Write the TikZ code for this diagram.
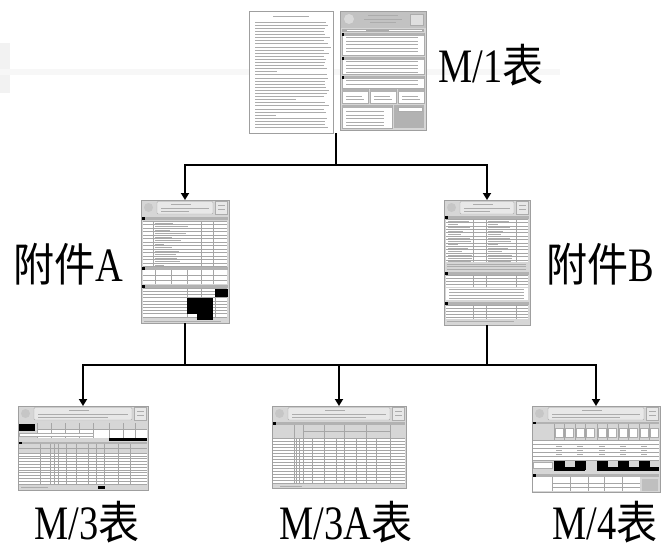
\documentclass[tikz,border=0pt]{standalone}
\usepackage{fontspec}
\setmainfont{Liberation Serif}[FakeStretch=0.8]
\newfontfamily\cjk{Noto Sans CJK TC}[FakeStretch=0.9,Scale=0.95]
\usetikzlibrary{arrows.meta}
% header of a small form (logo, title box, number box), #1 = page width
\newcommand\formhead[1]{%
  \fill[gray!45] (7.5,7.5) circle (4.5);
  \draw[cell, fill=gray!18, rounded corners=1pt] (16,1.5) rectangle ({#1-16},14);
  \draw[txt] ({#1/2-14},4) -- ({#1/2+6},4);
  \draw[txt] (20,8) -- ({#1-20},8);
  \draw[txt] (20,11.5) -- ({#1-40},11.5);
  \draw[cell, fill=gray!18] ({#1-14},1.5) rectangle ({#1-1.5},14);
  \draw[txt] ({#1-11},5) -- ({#1-4},5);
  \draw[txt] ({#1-11},9) -- ({#1-4},9);
}
\begin{document}
\begin{tikzpicture}[x=1pt, y=-1pt, every node/.style = {inner sep=0pt, outer sep=0pt}]
	\tikzstyle{page} = [draw=gray!75, fill=gray!32, line width=0.6pt]
	\tikzstyle{paper} = [page, fill=white]
	\tikzstyle{bar} = [fill=gray!60]
	\tikzstyle{cell} = [draw=gray!65, fill=white, line width=0.4pt]
	\tikzstyle{txt} = [draw=gray!65, line width=0.6pt]
	\tikzstyle{rule} = [draw=gray!70, line width=0.35pt]
	\tikzstyle{ink} = [fill=black]
	\tikzstyle{lab} = [font=\fontsize{48}{50}\selectfont, anchor=base]
	\tikzstyle{link} = [draw, line width=1.7pt]
	\tikzstyle{arr} = [link, -{Triangle[width=8pt, length=7pt]}]
	\useasboundingbox (0,0) rectangle (665,550);
	\pgfmathsetseed{11}
	% faint band
	\fill[black!3] (0,69) rectangle (560,75);
	\fill[black!5] (0,43) rectangle (10,69);
	\fill[black!5] (0,75) rectangle (10,93);

	% pages
	\node[paper, minimum width=84, minimum height=122] (m1a) at (291,72) {};
	\node[page, minimum width=86, minimum height=119] (m1b) at (383,70.5) {};
	\node[page, minimum width=88, minimum height=123] (fja) at (185,261.5) {};
	\node[page, minimum width=86, minimum height=125] (fjb) at (487,262.5) {};
	\node[page, minimum width=130, minimum height=84] (m3) at (83,448) {};
	\node[page, minimum width=134, minimum height=82] (m3a) at (339,447) {};
	\node[page, minimum width=128, minimum height=86] (m4) at (596,449) {};

	% labels
	\node[lab] (m1lab) at (491,82) {M/1{\cjk 表}};
	\node[lab] (fjalab) at (68,281) {{\cjk 附件}A};
	\node[lab] (fjblab) at (600,281) {{\cjk 附件}B};
	\node[lab] (m3lab) at (87,539) {M/3{\cjk 表}};
	\node[lab] (m3alab) at (346,539) {M/3A{\cjk 表}};
	\node[lab] (m4lab) at (605,539) {M/4{\cjk 表}};

	% connectors
	\coordinate (m1s) at (336,133);
	\coordinate (j1) at (336,165);
	\coordinate (bus) at (339,365);
	\draw[link] (m1s) -- (j1);
	\draw[arr] (j1) -| (fja.north);
	\draw[arr] (j1) -| (fjb.north);
	\draw[link] (fja.south) |- (bus);
	\draw[link] (fjb.south) |- (bus);
	\draw[arr] (bus) -| (m3.north);
	\draw[arr] (bus) -- (m3a.north);
	\draw[arr] (bus) -| (m4.north);

	% M/1, notes page
	\begin{scope}[shift={(m1a.north west)}]
		\draw[txt] (24,5) -- (60,5);
		\foreach \i in {0,...,34} {
			\pgfmathsetmacro\l{rnd>0.8 ? 20+30*rnd : 68+8*rnd}
			\draw[txt, line width=0.5pt] (6,11+3.1*\i) -- ++(\l,0);
		}
	\end{scope}
	% M/1, form page
	\begin{scope}[shift={(m1b.north west)}]
		\fill[gray!48] (0.5,0.5) rectangle (85.5,17);
		\fill[gray!30] (9,8) circle (5);
		\draw[txt] (28,4) -- (58,4); \draw[txt] (24,8) -- (62,8); \draw[txt] (30,11.5) -- (56,11.5);
		\draw[cell, fill=gray!25] (70,3) rectangle (83,14);
		\fill[gray!65] (2,18) rectangle (84,21);
		\fill[cell] (6,18.5) rectangle (26,20.5); \fill[cell] (48,18.5) rectangle (82,20.5);
		\foreach \a/\b/\n in {22/44/5, 46/63/4, 65/77/2} {
			\draw[cell] (2,\a) rectangle (84,\b);
			\fill[bar] (2,\a) rectangle (84,\a+3);
			\fill[black] (2,\a) rectangle (4,\a+3);
			\foreach \i in {1,...,\n} \draw[txt, line width=0.4pt] (6,\a+1+3.5*\i) -- (78,\a+1+3.5*\i);
		}
		\foreach \x in {2,30,58} {
			\draw[cell] (\x,78) rectangle (\x+26,92);
			\fill[bar] (\x,78) rectangle (\x+26,81);
			\draw[txt, line width=0.4pt] (\x+4,85) -- (\x+20,85); \draw[txt, line width=0.4pt] (\x+4,88) -- (\x+22,88);
		}
		\draw[cell] (2,94) rectangle (52,117);
		\fill[bar] (2,94) rectangle (52,97);
		\foreach \i in {1,...,5} \draw[txt, line width=0.4pt] (6,97+3.5*\i) -- (44,97+3.5*\i);
		\fill[gray!60] (54,94) rectangle (84,117);
		\fill[cell] (58,96) rectangle (82,100);
	\end{scope}

	% Annex A
	\begin{scope}[shift={(fja.north west)}]
		\formhead{88}
		\fill[bar] (1,17) rectangle (87,20); \fill[black] (1,17) rectangle (4,20);
		\fill[white] (2,21) rectangle (86,66);
		\foreach \i in {0,...,13} {
			\draw[rule] (2,21+3.5*\i) -- (86,21+3.5*\i);
			\pgfmathsetmacro\l{8+26*rnd}
			\draw[txt, line width=0.4pt] (14,22.7+3.5*\i) -- ++(\l,0);
		}
		\foreach \x in {12,60,72} \draw[rule] (\x,21) -- (\x,66);
		\fill[bar] (1,67) rectangle (87,70); \fill[black] (1,67) rectangle (4,70);
		\fill[white] (2,70) rectangle (86,84);
		\foreach \x in {14,30,46,60,72} \draw[rule] (\x,70) -- (\x,84);
		\draw[rule] (2,75) -- (86,75); \draw[rule] (2,80) -- (86,80);
		\fill[bar] (1,85) rectangle (87,88); \fill[black] (1,85) rectangle (4,88);
		\fill[white] (2,88) rectangle (86,118);
		\foreach \i in {0,...,9} \draw[rule] (2,88+3.2*\i) -- (86,88+3.2*\i);
		\foreach \x in {46,60,74} \draw[rule] (\x,88) -- (\x,118);
		\fill[ink] (74,89) rectangle (87,97);
		\fill[ink] (46,98) rectangle (72,114);
		\fill[ink] (56,114) rectangle (72,120);
		\draw[txt, line width=0.4pt] (3,121) -- (80,121);
	\end{scope}

	% Annex B
	\begin{scope}[shift={(fjb.north west)}]
		\formhead{86}
		\fill[bar] (1,16) rectangle (85,19); \fill[black] (1,16) rectangle (4,19);
		\fill[white] (2,19) rectangle (84,62);
		\foreach \i in {0,...,12} {
			\draw[rule] (2,19+3.4*\i) -- (84,19+3.4*\i);
			\pgfmathsetmacro\l{10+14*rnd}
			\draw[txt, line width=0.4pt] (4,20.7+3.4*\i) -- ++(\l,0);
			\draw[txt, line width=0.4pt] (44,20.7+3.4*\i) -- ++(\l,0);
		}
		\foreach \x in {29,42,72} \draw[rule] (\x,19) -- (\x,62);
		\foreach \i in {0,...,2} \draw[txt, line width=0.4pt] (3,64+2.6*\i) -- (82,64+2.6*\i);
		\fill[bar] (1,72) rectangle (85,75); \fill[black] (1,72) rectangle (4,75);
		\fill[white] (2,75) rectangle (84,87);
		\foreach \i in {0,...,3} \draw[rule] (2,75+3*\i) -- (84,75+3*\i);
		\foreach \x in {29,42,72} \draw[rule] (\x,75) -- (\x,87);
		\fill[white] (2,88) rectangle (84,100);
		\foreach \i in {0,...,3} \draw[txt, line width=0.4pt] (5,89.5+3*\i) -- (80,89.5+3*\i);
		\fill[bar] (1,102) rectangle (85,105); \fill[black] (1,102) rectangle (4,105);
		\fill[white] (2,105) rectangle (84,119);
		\foreach \i in {0,...,4} \draw[rule] (2,105+3*\i) -- (84,105+3*\i);
		\foreach \x in {29,42,72} \draw[rule] (\x,105) -- (\x,119);
		\draw[txt, line width=0.4pt] (3,121.5) -- (70,121.5);
	\end{scope}

	% M/3
	\begin{scope}[shift={(m3.north west)}]
		\formhead{130}
		\fill[ink] (1,18) rectangle (17,25);
		\fill[white] (19,23) rectangle (129,32);
		\foreach \x in {19,33,47,61,75,91,105,117} \draw[rule] (\x,17) -- (\x,32);
		\draw[rule] (19,23) -- (129,23);
		\fill[cell] (1,27) rectangle (75,30);
		\fill[ink] (91,32) rectangle (129,35);
		\fill[bar] (1,36) rectangle (129,38); \fill[black] (1,36) rectangle (4,38);
		\fill[white] (1,47) rectangle (129,79);
		\foreach \i in {0,...,11} \draw[rule] (1,47+2.8*\i) -- (129,47+2.8*\i);
		\foreach \x in {22,32,36,40,48,58,70,78,86,100,112} \draw[rule] (\x,38) -- (\x,79);
		\draw[rule] (1,42) -- (129,42);
		\fill[ink] (80,80) rectangle (87,82.5);
		\draw[txt, line width=0.4pt] (3,81) -- (30,81);
	\end{scope}

	% M/3A
	\begin{scope}[shift={(m3a.north west)}]
		\formhead{134}
		\fill[bar] (1,16) rectangle (133,19); \fill[black] (1,16) rectangle (4,19);
		\foreach \x in {22,31,52,72,94,118} \draw[rule] (\x,19) -- (\x,32);
		\draw[rule] (31,25) -- (118,25);
		\fill[white] (1,32) rectangle (133,78);
		\foreach \i in {0,...,15} \draw[rule] (1,32+3*\i) -- (133,32+3*\i);
		\foreach \x in {22,24,27,31,40,52,64,72,84,94,104,118} \draw[rule] (\x,32) -- (\x,78);
		\draw[txt, line width=0.4pt] (8,80) -- (30,80);
	\end{scope}

	% M/4
	\begin{scope}[shift={(m4.north west)}]
		\formhead{128}
		\fill[bar] (1,16) rectangle (127,18); \fill[black] (1,16) rectangle (4,18);
		\foreach \x in {22,32,43,53,65,75,86,96,107,117} {
			\draw[rule] (\x,18) -- (\x,54);
			\fill[cell] (\x+1,22) rectangle (\x+9,31);
		}
		\fill[white] (1,34) rectangle (127,54);
		\foreach \i in {0,...,5} \draw[rule] (1,34+4*\i) -- (127,34+4*\i);
		\foreach \x in {22,43,65,86,107} \draw[txt] (\x+2,40) -- (\x+8,40) (\x+2,44) -- (\x+8,44) (\x+2,48) -- (\x+8,48);
		\foreach \x in {22,43,65,86,107} \fill[ink] (\x,55) rectangle (\x+11,64);
		\fill[ink] (22,61) rectangle (53,64.5); \fill[ink] (65,61) rectangle (127,64.5);
		\fill[cell] (1,56) rectangle (20,62);
		\fill[bar] (1,68) rectangle (127,71); \fill[black] (1,68) rectangle (4,71);
		\fill[white] (1,71) rectangle (108,85);
		\foreach \x in {20,38,56,72,90} \draw[rule] (\x,71) -- (\x,85);
		\draw[rule] (20,77) -- (108,77); \draw[rule] (20,81) -- (108,81);
		\fill[gray!50] (110,73) rectangle (126,85);
	\end{scope}
\end{tikzpicture}
\end{document}
